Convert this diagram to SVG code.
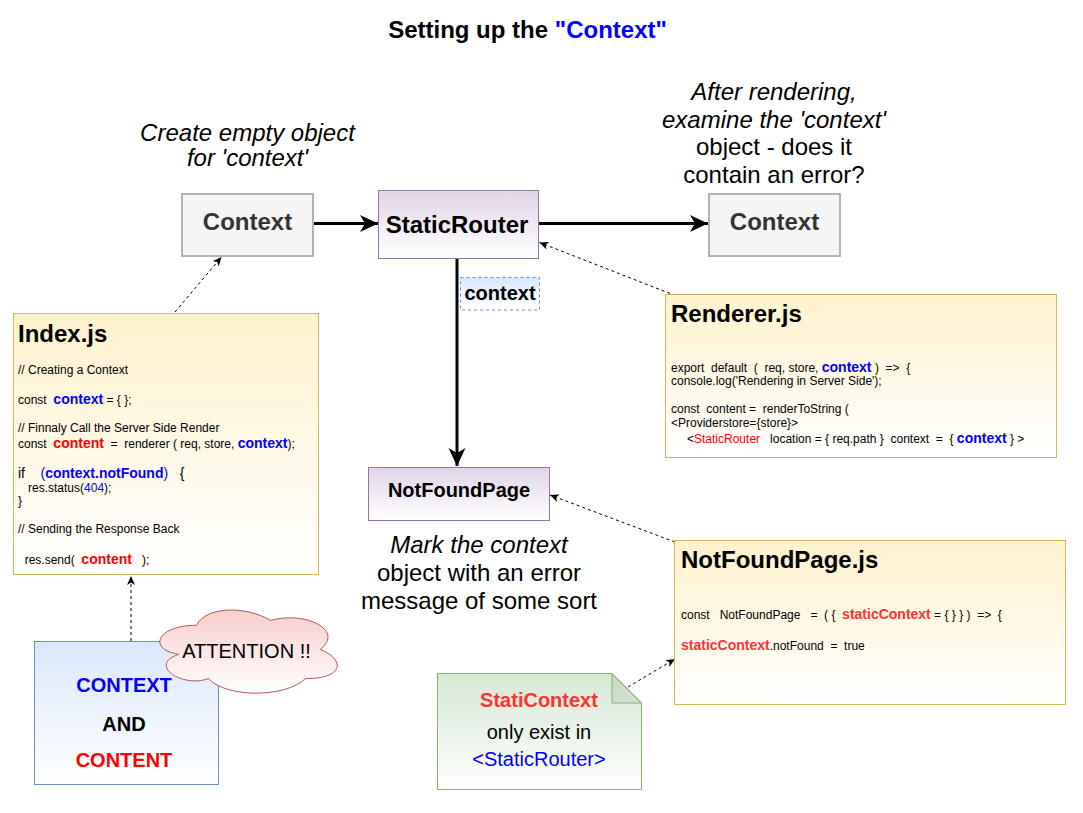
<svg xmlns="http://www.w3.org/2000/svg" width="1083" height="813" viewBox="0 0 1083 813">
<defs>
<linearGradient id="gY" x1="0" y1="0" x2="0" y2="1"><stop offset="0" stop-color="#fff2cc"/><stop offset="1" stop-color="#ffffff"/></linearGradient>
<linearGradient id="gP" x1="0" y1="0" x2="0" y2="1"><stop offset="0" stop-color="#e1d5e7"/><stop offset="1" stop-color="#ffffff"/></linearGradient>
<linearGradient id="gB" x1="0" y1="0" x2="0" y2="1"><stop offset="0" stop-color="#dae8fc"/><stop offset="1" stop-color="#ffffff"/></linearGradient>
<linearGradient id="gR" x1="0" y1="0" x2="0" y2="1"><stop offset="0" stop-color="#f8cecc"/><stop offset="1" stop-color="#ffffff"/></linearGradient>
<linearGradient id="gG" x1="0" y1="0" x2="0" y2="1"><stop offset="0" stop-color="#d5e8d4"/><stop offset="1" stop-color="#ffffff"/></linearGradient>
<marker id="big" markerUnits="userSpaceOnUse" markerWidth="20" markerHeight="18" refX="18" refY="8.5" orient="auto"><path d="M0,0 L18,8.5 L0,17 L5,8.5 Z" fill="#000"/></marker>
<marker id="small" markerUnits="userSpaceOnUse" markerWidth="10" markerHeight="9" refX="9" refY="4" orient="auto"><path d="M0,0 L9,4 L0,8 L2.5,4 Z" fill="#000"/></marker>
</defs>
<style>
text{font-family:"Liberation Sans",Arial,sans-serif;fill:#000;}
.pre{white-space:pre;}
.grey{fill:#f5f5f5;stroke:#b3b3b3;stroke-width:2;}
.purple{fill:url(#gP);stroke:#9673a6;stroke-width:1;}
.yel{fill:url(#gY);stroke:#d6b656;stroke-width:1;}
.nodeT{font-size:24px;font-weight:bold;text-anchor:middle;}
.gt{fill:#333;}
.it{font-size:24px;text-anchor:middle;}
.i{font-style:italic;}
.h{font-size:24px;font-weight:bold;}
.code{font-size:12px;}
.kb{font-size:14px;font-weight:bold;fill:#0000ff;}
.kr{font-size:14px;font-weight:bold;fill:#ff0000;}
.ks{font-size:14px;font-weight:bold;fill:#ff3333;}
.blue{fill:#0000ff;}
.red{fill:#ff0000;}
.red3{fill:#ff3333;}
.thick{stroke:#000;stroke-width:3;fill:none;marker-end:url(#big);}
.dash{stroke:#000;stroke-width:1;fill:none;stroke-dasharray:3 3;marker-end:url(#small);}
</style>

<text x="527.5" y="38" font-size="24" font-weight="bold" text-anchor="middle">Setting up the <tspan class="blue">"Context"</tspan></text>

<g id="label-create">
<text class="it i" x="247.5" y="141">Create empty object</text>
<text class="it i" x="247.5" y="166">for 'context'</text>
</g>
<g id="label-after">
<text class="it i" x="774" y="100">After rendering,</text>
<text class="it i" x="774" y="127.5">examine the 'context'</text>
<text class="it" x="774" y="155">object - does it</text>
<text class="it" x="774" y="182.5">contain an error?</text>
</g>
<g id="label-mark">
<text class="it i" x="479" y="553">Mark the context</text>
<text class="it" x="479" y="581">object with an error</text>
<text class="it" x="479" y="608.5">message of some sort</text>
</g>

<g id="connectors">
<line class="thick" x1="314" y1="223.5" x2="378" y2="223.5"/>
<line class="thick" x1="539" y1="223.5" x2="708" y2="223.5"/>
<line class="thick" x1="457" y1="259" x2="457" y2="466"/>
<line class="dash" x1="175" y1="312" x2="221.5" y2="257"/>
<line class="dash" x1="670" y1="293.5" x2="539.5" y2="242.5"/>
<line class="dash" x1="675" y1="542" x2="550" y2="495"/>
<line class="dash" x1="131" y1="641" x2="131" y2="576"/>
<line class="dash" x1="628" y1="687" x2="675" y2="659"/>
</g>

<g id="node-context-left">
<rect class="grey" x="182" y="194" width="131" height="62"/>
<text class="nodeT gt" x="247.5" y="229.5">Context</text>
</g>
<g id="node-staticrouter">
<rect class="purple" x="378.5" y="190.5" width="160" height="68"/>
<text class="nodeT" x="457" y="232.5">StaticRouter</text>
</g>
<g id="node-context-right">
<rect class="grey" x="709" y="194" width="131" height="62"/>
<text class="nodeT gt" x="774.5" y="229.5">Context</text>
</g>
<g id="label-context-edge">
<rect x="460.5" y="277.5" width="79" height="32.5" fill="url(#gB)" stroke="#6c8ebf" stroke-dasharray="3 3"/>
<text x="500" y="299.5" font-size="20" font-weight="bold" text-anchor="middle">context</text>
</g>
<g id="node-notfoundpage">
<rect class="purple" x="368.5" y="467.5" width="181" height="53"/>
<text x="459" y="497" font-size="20" font-weight="bold" text-anchor="middle">NotFoundPage</text>
</g>

<g id="node-index">
<rect class="yel" x="13.5" y="313.5" width="305" height="261"/>
<text class="h" x="18" y="342">Index.js</text>
<text class="code pre" x="18" y="374">// Creating a Context</text>
<text class="code pre" x="18" y="404">const  <tspan class="kb">context</tspan> = { };</text>
<text class="code pre" x="18" y="432">// Finnaly Call the Server Side Render</text>
<text class="code pre" x="18" y="448">const  <tspan class="kr">content</tspan>  =  renderer ( req, store, <tspan class="kb">context</tspan>);</text>
<text class="code pre" x="18" y="478"><tspan font-size="14">if   </tspan><tspan font-size="14" class="blue"> (</tspan><tspan class="kb">context.notFound</tspan><tspan font-size="14" class="blue">)</tspan><tspan font-size="14">   {</tspan></text>
<text class="code pre" x="18" y="492">   res.status(<tspan class="blue">404</tspan>);</text>
<text class="code pre" x="18" y="505">}</text>
<text class="code pre" x="18" y="533">// Sending the Response Back</text>
<text class="code pre" x="18" y="564">  res.send(  <tspan class="kr">content</tspan>   );</text>
</g>

<g id="node-renderer">
<rect class="yel" x="665.5" y="294.5" width="391" height="163"/>
<text class="h" x="671" y="322">Renderer.js</text>
<text class="code pre" x="671" y="372">export  default  (  req, store, <tspan class="kb">context</tspan> )  =&gt;  {</text>
<text class="code pre" x="671" y="385">console.log('Rendering in Server Side');</text>
<text class="code pre" x="671" y="413">const  content =  renderToString (</text>
<text class="code pre" x="671" y="427">&lt;Providerstore={store}&gt;</text>
<text class="code pre" x="687" y="443">&lt;<tspan class="red">StaticRouter</tspan>   location = { req.path }  context  =  { <tspan class="kb">context</tspan> } &gt;</text>
</g>

<g id="node-notfoundpagejs">
<rect class="yel" x="674.5" y="540.5" width="391" height="164"/>
<text class="h" x="681" y="568">NotFoundPage.js</text>
<text class="code pre" x="681" y="619">const   NotFoundPage   =  ( {  <tspan class="ks">staticContext</tspan> = { } } )  =&gt;  {</text>
<text class="code pre" x="681" y="650"><tspan class="ks">staticContext</tspan>.notFound  =  true</text>
</g>

<g id="node-context-content">
<rect x="34.5" y="641.5" width="184" height="143" fill="url(#gB)" stroke="#6c8ebf"/>
<text class="blue" x="124" y="692" font-size="20" font-weight="bold" text-anchor="middle">CONTEXT</text>
<text x="124" y="731" font-size="20" font-weight="bold" text-anchor="middle">AND</text>
<text class="red" x="124" y="767" font-size="20" font-weight="bold" text-anchor="middle">CONTENT</text>
</g>

<g id="node-attention">
<path d="M196.5,625.25 C156.9,625.25 147,649.5 178.7,654.35 C147,665 182.6,688.3 208.4,678.6 C226.2,698 285.6,698 305.4,678.6 C345,678.6 345,659.2 320.25,649.5 C345,630.1 305.4,610.7 270.75,620.4 C246,605.85 206.4,605.85 196.5,625.25 Z" fill="url(#gR)" stroke="#b85450"/>
<text x="246.5" y="658" font-size="20" text-anchor="middle">ATTENTION !!</text>
</g>

<g id="node-staticontext-note">
<path d="M437.5,673.5 H612 L641.5,703 V789.5 H437.5 Z" fill="url(#gG)" stroke="#82b366"/>
<path d="M612,673.5 V703 H641.5 Z" fill="#000" fill-opacity="0.06" stroke="#82b366"/>
<text class="red3" x="539" y="706.5" font-size="20" font-weight="bold" text-anchor="middle">StatiContext</text>
<text x="539" y="739" font-size="20" text-anchor="middle">only exist in</text>
<text class="blue" x="539" y="766" font-size="20" text-anchor="middle">&lt;StaticRouter&gt;</text>
</g>
</svg>
